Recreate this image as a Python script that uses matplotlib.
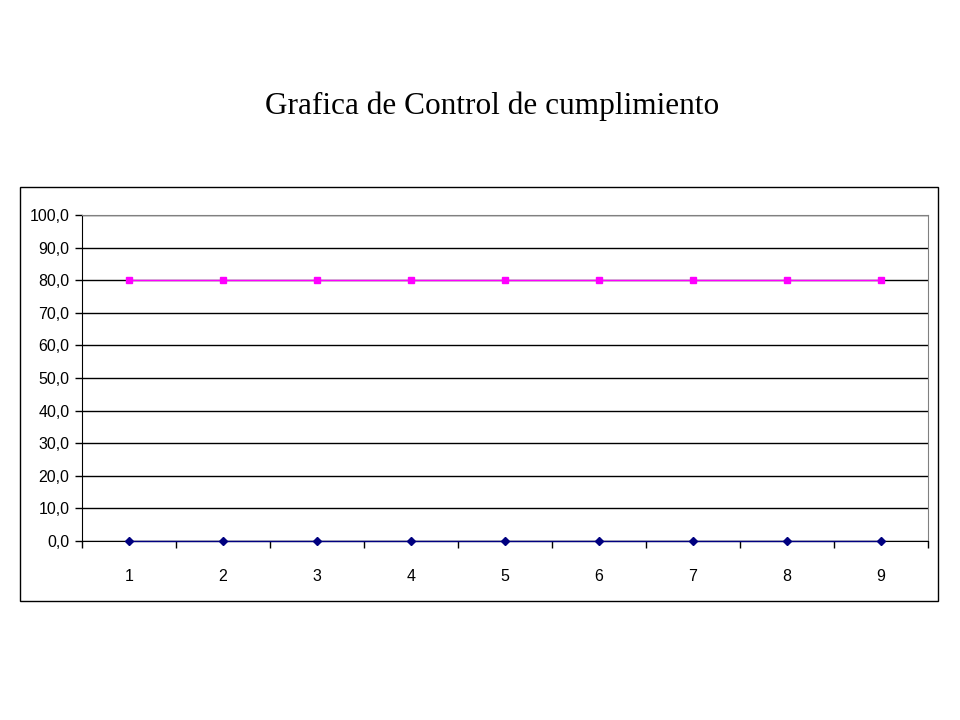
import matplotlib.pyplot as plt
from matplotlib.patches import Rectangle
from matplotlib.ticker import FixedLocator, FuncFormatter

periodos = [1, 2, 3, 4, 5, 6, 7, 8, 9]
meta = [80, 80, 80, 80, 80, 80, 80, 80, 80]
cumplimiento = [0, 0, 0, 0, 0, 0, 0, 0, 0]
y_ticks = [0, 10, 20, 30, 40, 50, 60, 70, 80, 90, 100]

fig = plt.figure(figsize=(9.6, 7.2), dpi=100)
fig.patches.append(Rectangle((0.0208, 0.1653), 0.9562, 0.575, transform=fig.transFigure,
                             fill=False, edgecolor="black", linewidth=1))

ax = fig.add_axes([0.0854, 0.2486, 0.8813, 0.4528])
ax.plot(periodos, meta, color="#FF00FF", marker="s", markersize=5, linewidth=1,
        zorder=3, clip_on=False)
ax.plot(periodos, cumplimiento, color="#000080", marker="D", markersize=4, linewidth=1,
        zorder=3, clip_on=False)

ax.set_xlim(0.5, 9.5)
ax.set_ylim(0, 100)
ax.set_yticks(y_ticks)
ax.yaxis.set_major_formatter(FuncFormatter(lambda v, p: f"{v:.1f}".replace(".", ",")))
ax.yaxis.grid(True, color="black", linewidth=1)
ax.set_axisbelow(True)

ax.set_xticks(periodos)
ax.xaxis.set_minor_locator(FixedLocator([i + 0.5 for i in range(0, 10)]))
ax.tick_params(axis="x", which="major", length=0, pad=20)
ax.tick_params(axis="x", which="minor", length=5, direction="out", width=1)
ax.tick_params(axis="y", length=5, direction="out", width=1, pad=4)
for lab in ax.get_xticklabels() + ax.get_yticklabels():
    lab.set_family("Liberation Sans")
    lab.set_fontsize(11.5)

for s in ["top", "right"]:
    ax.spines[s].set_color("#808080")
ax.spines["left"].set_color("black")
ax.spines["bottom"].set_color("black")

fig.text(0.513, 0.853, "Grafica de Control de cumplimiento", ha="center", va="center",
         family="Liberation Serif", fontsize=22.5)

fig.savefig("out.png", dpi=100)
